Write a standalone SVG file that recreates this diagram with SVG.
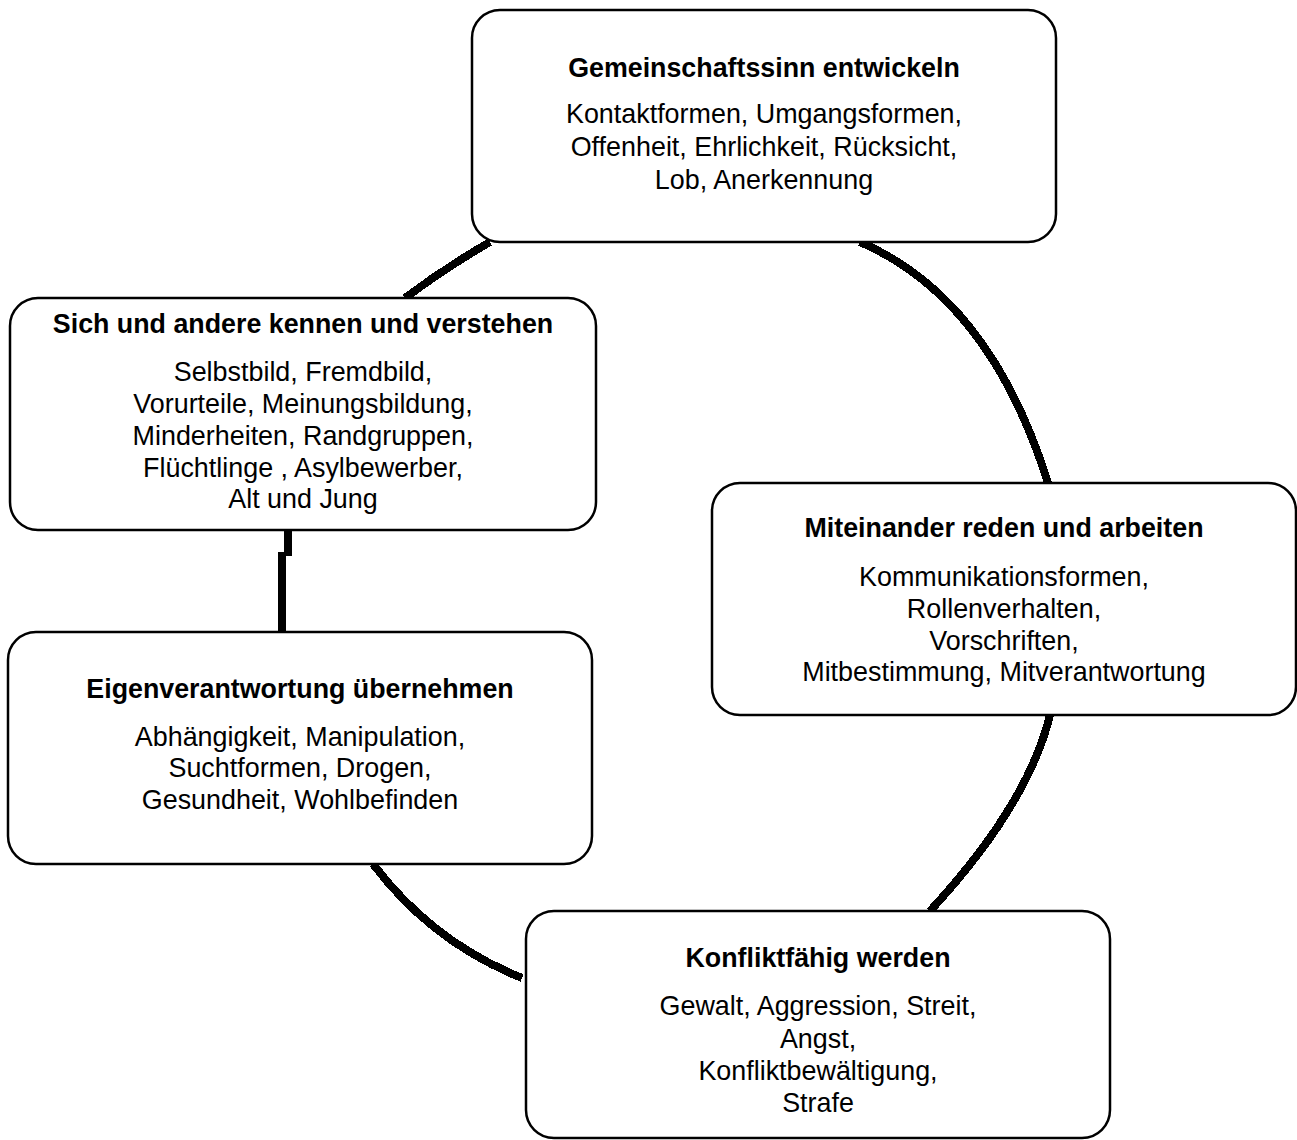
<svg xmlns="http://www.w3.org/2000/svg" width="1297" height="1140" viewBox="0 0 1297 1140">
<style>
.box{fill:#fff;stroke:#000;stroke-width:2.5}
.t{font-family:"Liberation Sans",Arial,sans-serif;font-size:26.8px;font-weight:bold;text-anchor:middle;fill:#000}
.b{font-family:"Liberation Sans",Arial,sans-serif;font-size:26.9px;text-anchor:middle;fill:#000}
.c{fill:none;stroke:#000;stroke-width:8;shape-rendering:crispEdges}
</style>
<rect width="1297" height="1140" fill="#fff"/>
<g id="connectors">
<path class="c" d="M490,242 Q445,268 405,298"/>
<path class="c" d="M860,242 Q990,298 1048,483"/>
<path class="c" d="M288,530 V556 M282,552 V632"/>
<path class="c" d="M1050,715 Q1028,805 930,911"/>
<path class="c" d="M373,864 Q432,942 522,978"/>
</g>
<g id="node1">
<rect class="box" x="472" y="10" width="584" height="232" rx="28"/>
<text class="t" x="764" y="77">Gemeinschaftssinn entwickeln</text>
<text class="b" x="764" y="123">Kontaktformen, Umgangsformen,</text>
<text class="b" x="764" y="156">Offenheit, Ehrlichkeit, Rücksicht,</text>
<text class="b" x="764" y="189">Lob, Anerkennung</text>
</g>
<g id="node2">
<rect class="box" x="10" y="298" width="586" height="232" rx="28"/>
<text class="t" x="303" y="333">Sich und andere kennen und verstehen</text>
<text class="b" x="303" y="381">Selbstbild, Fremdbild,</text>
<text class="b" x="303" y="413">Vorurteile, Meinungsbildung,</text>
<text class="b" x="303" y="445">Minderheiten, Randgruppen,</text>
<text class="b" x="303" y="477">Flüchtlinge , Asylbewerber,</text>
<text class="b" x="303" y="508">Alt und Jung</text>
</g>
<g id="node3">
<rect class="box" x="712" y="483" width="584" height="232" rx="28"/>
<text class="t" x="1004" y="537">Miteinander reden und arbeiten</text>
<text class="b" x="1004" y="586">Kommunikationsformen,</text>
<text class="b" x="1004" y="618">Rollenverhalten,</text>
<text class="b" x="1004" y="650">Vorschriften,</text>
<text class="b" x="1004" y="681">Mitbestimmung, Mitverantwortung</text>
</g>
<g id="node4">
<rect class="box" x="8" y="632" width="584" height="232" rx="28"/>
<text class="t" x="300" y="698">Eigenverantwortung übernehmen</text>
<text class="b" x="300" y="746">Abhängigkeit, Manipulation,</text>
<text class="b" x="300" y="777">Suchtformen, Drogen,</text>
<text class="b" x="300" y="809">Gesundheit, Wohlbefinden</text>
</g>
<g id="node5">
<rect class="box" x="526" y="911" width="584" height="227" rx="28"/>
<text class="t" x="818" y="967">Konfliktfähig werden</text>
<text class="b" x="818" y="1015">Gewalt, Aggression, Streit,</text>
<text class="b" x="818" y="1048">Angst,</text>
<text class="b" x="818" y="1080">Konfliktbewältigung,</text>
<text class="b" x="818" y="1112">Strafe</text>
</g>
</svg>
